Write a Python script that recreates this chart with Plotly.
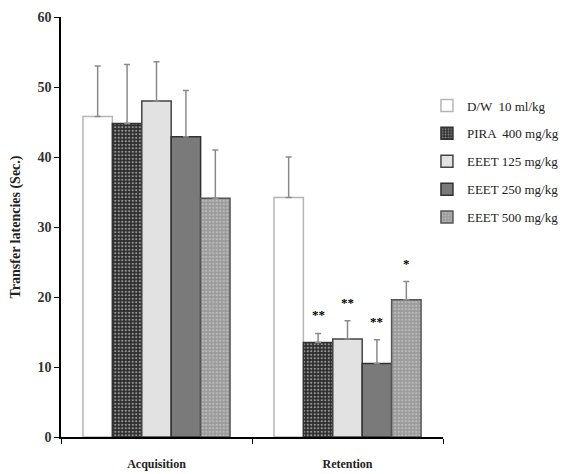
import plotly.graph_objects as go

categories = ["Acquisition", "Retention"]
series_names = ["D/W  10 ml/kg", "PIRA  400 mg/kg", "EEET 125 mg/kg", "EEET 250 mg/kg", "EEET 500 mg/kg"]
acquisition = [45.8, 44.8, 48.0, 42.9, 34.1]
acquisition_err = [7.2, 8.4, 5.6, 6.6, 6.9]
retention = [34.2, 13.5, 14.0, 10.5, 19.6]
retention_err = [5.8, 1.3, 2.6, 3.4, 2.6]
retention_sig = ["", "**", "**", "**", "*"]

fills = ["white", "#2a2a2a", "#e2e2e2", "#7a7a7a", "#a8a8a8"]
outlines = ["#b5b5b5", "#333333", "#444444", "#333333", "#555555"]
patterns = [
    dict(shape=""),
    dict(shape=".", fgcolor="white", bgcolor="#2a2a2a", size=3.5, solidity=0.35, fillmode="overlay"),
    dict(shape=""),
    dict(shape=""),
    dict(shape=".", fgcolor="#dcdcdc", bgcolor="#9a9a9a", size=3.5, solidity=0.35, fillmode="overlay"),
]

bargap = 0.23
n = len(series_names)
bw = (1 - bargap) / n

FONT = "Liberation Serif"
fig = go.Figure()
for i in range(n):
    fig.add_trace(go.Bar(
        x=categories,
        y=[acquisition[i], retention[i]],
        name=series_names[i],
        legendgroup=str(i),
        marker=dict(color=fills[i], line=dict(color=outlines[i], width=1.5), pattern=patterns[i]),
        error_y=dict(type="data", symmetric=False, array=[acquisition_err[i], retention_err[i]],
                     arrayminus=[0, 0], color="#8a8a8a", thickness=1.5, width=3),
    ))

for i in range(n):
    if retention_sig[i]:
        fig.add_annotation(
            x=1 + (i - (n - 1) / 2) * bw, xref="x",
            y=retention[i] + retention_err[i] + 1.3, yref="y",
            text="<b>" + retention_sig[i] + "</b>", showarrow=False,
            font=dict(family=FONT, size=13, color="black"),
            yanchor="bottom",
        )

fig.update_layout(
    width=570, height=474,
    margin=dict(l=61, r=127, t=17, b=37, autoexpand=False),
    paper_bgcolor="white", plot_bgcolor="white",
    barmode="group", bargap=bargap, bargroupgap=0,
    showlegend=True,
    legend=dict(x=0.958, y=0.825, xanchor="left", yanchor="top",
                font=dict(family=FONT, size=13, color="#222"),
                traceorder="grouped", tracegroupgap=8, itemwidth=30,
                bgcolor="rgba(0,0,0,0)"),
    font=dict(family=FONT, color="#222"),
)
fig.update_xaxes(
    type="category", showline=True, linecolor="black", linewidth=1.5,
    ticks="outside", tickson="boundaries", ticklen=5, tickcolor="black",
    tickfont=dict(family=FONT, size=12, color="#222"),
    tickvals=categories, ticktext=["<b>" + c + "</b>" for c in categories],
    ticklabelstandoff=15, automargin=False,
    showgrid=False, zeroline=False,
)
fig.update_yaxes(
    range=[0, 60], dtick=10, showline=True, linecolor="black", linewidth=1.5,
    ticks="outside", ticklen=5, tickcolor="black",
    tickfont=dict(family=FONT, size=14, color="#333"),
    tickprefix="<b>", ticksuffix="</b>", automargin=False,
    title=dict(text="<b>Transfer latencies (Sec.)</b>", font=dict(family=FONT, size=14, color="#222"), standoff=14),
    showgrid=False, zeroline=False,
)
fig.write_html(
    "out.html",
    config={"responsive": False, "displayModeBar": False},
    post_script="document.body.style.margin='0';document.body.style.overflow='hidden';",
)
